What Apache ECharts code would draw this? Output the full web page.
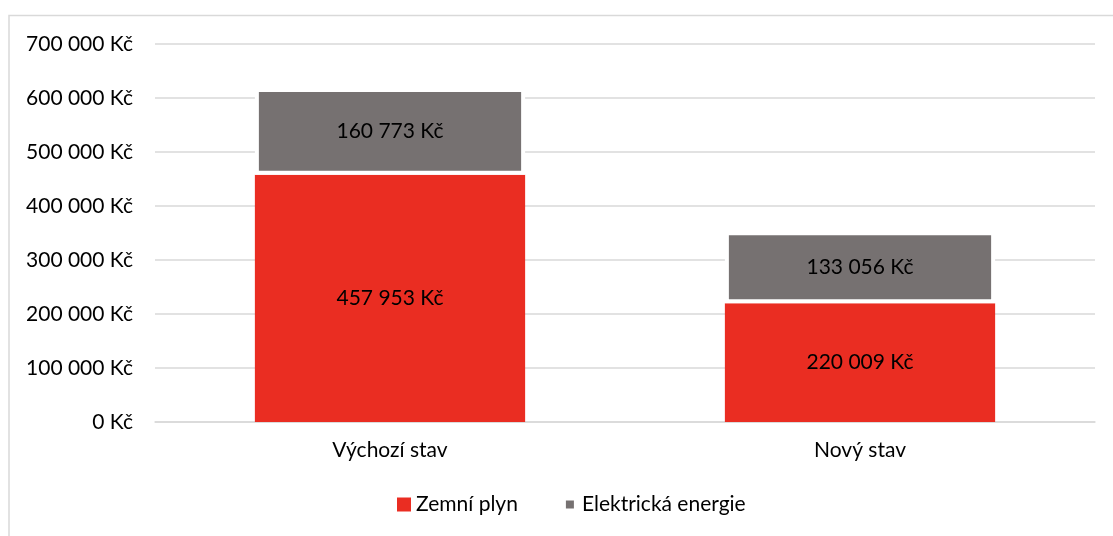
<!DOCTYPE html>
<html>
<head>
<meta charset="utf-8">
<script src="https://cdn.jsdelivr.net/npm/echarts@6/dist/echarts.min.js"></script>
<style>
  html, body { margin: 0; padding: 0; background: #ffffff; }
  #chart { width: 1113px; height: 536px; }
</style>
</head>
<body>
<div id="chart"></div>
<script>
// Energy costs per scenario (CZK)
const categories = ['Výchozí stav', 'Nový stav'];
const zemniPlyn = [457953, 220009];
const elektrina = [160773, 133056];
const seriesNames = ['Zemní plyn', 'Elektrická energie'];

const FONT = 'Lato';
const FS = 21;

// "457 953 Kč" style formatting with space as thousands separator
function kc(v) {
  return String(Math.round(v)).replace(/\B(?=(\d{3})+(?!\d))/g, ' ') + ' Kč';
}

const chart = echarts.init(document.getElementById('chart'), null, { renderer: 'canvas' });

chart.setOption({
  backgroundColor: '#ffffff',
  animation: false,
  textStyle: { fontFamily: FONT },
  graphic: [{
    type: 'rect',
    silent: true,
    z: -10,
    shape: { x: 9, y: 15.5, width: 1200, height: 600 },
    style: { fill: 'none', stroke: '#d9d9d9', lineWidth: 1.5 }
  }],
  grid: { left: 155, right: 18, top: 44, bottom: 114, containLabel: false },
  legend: {
    bottom: 16,
    left: 392,
    padding: [5, 5, 5, 5],
    icon: 'rect',
    itemWidth: 14,
    itemHeight: 14,
    itemGap: 42,
    textStyle: { fontFamily: FONT, fontSize: FS, color: '#000000', padding: [0, 0, 0, 0] },
    data: [
      { name: seriesNames[0], itemStyle: { borderWidth: 0 } },
      { name: seriesNames[1], itemStyle: { borderColor: '#ffffff', borderWidth: 6 } }
    ]
  },
  xAxis: {
    type: 'category',
    data: categories,
    axisLine: { show: true, lineStyle: { color: '#d9d9d9', width: 1.5 } },
    axisTick: { show: false },
    axisLabel: { fontFamily: FONT, fontSize: FS, color: '#000000', margin: 18 }
  },
  yAxis: {
    type: 'value',
    min: 0,
    max: 700000,
    interval: 100000,
    axisLine: { show: false },
    axisTick: { show: false },
    splitLine: { lineStyle: { color: '#d9d9d9', width: 1.5 } },
    axisLabel: { fontFamily: FONT, fontSize: FS, color: '#000000', margin: 22, formatter: kc }
  },
  series: [
    {
      name: seriesNames[0],
      type: 'bar',
      stack: 'total',
      barWidth: '57.5%',
      data: zemniPlyn,
      itemStyle: { color: '#ea2d22' },
      label: {
        show: true, position: 'inside', formatter: p => kc(p.value),
        fontFamily: FONT, fontSize: FS, color: '#000000'
      }
    },
    {
      name: seriesNames[1],
      type: 'bar',
      stack: 'total',
      data: elektrina,
      itemStyle: { color: '#767171', borderColor: '#ffffff', borderWidth: 4 },
      label: {
        show: true, position: 'inside', formatter: p => kc(p.value),
        fontFamily: FONT, fontSize: FS, color: '#000000'
      }
    }
  ]
});
</script>
</body>
</html>
